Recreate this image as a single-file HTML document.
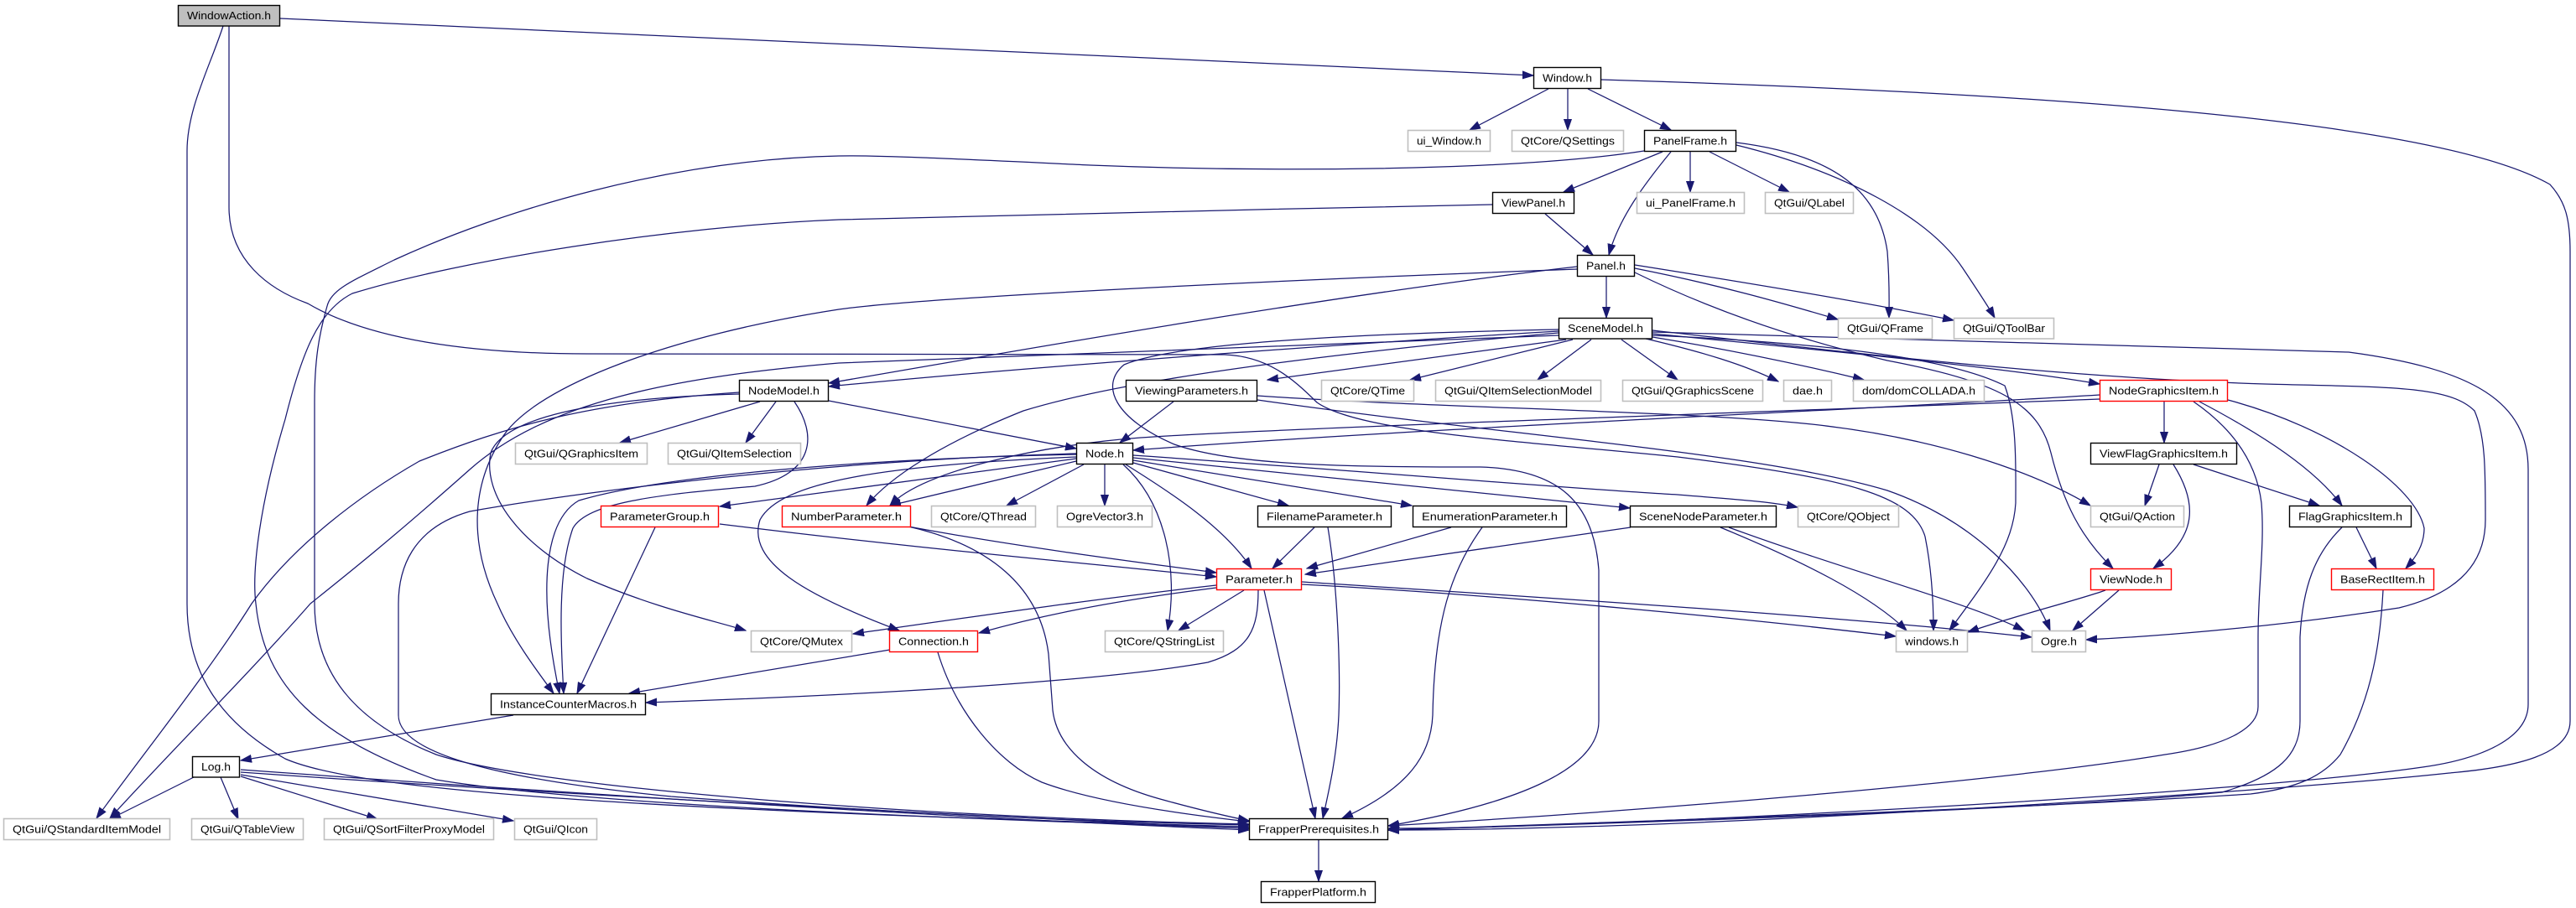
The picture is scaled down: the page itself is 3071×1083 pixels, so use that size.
<!DOCTYPE html>
<html>
<head>
<meta charset="utf-8">
<style>
html,body{margin:0;padding:0;background:#fff;}
svg{display:block;}
text{font-family:"Liberation Sans",sans-serif;font-size:13px;fill:#000;}
</style>
</head>
<body>
<svg width="3071" height="1083" viewBox="0 0 3071 1083" xmlns="http://www.w3.org/2000/svg">
<defs>
<marker id="a" markerWidth="14" markerHeight="10" refX="13" refY="5" orient="auto" markerUnits="userSpaceOnUse">
<path d="M0,0.5 L13,5 L0,9.5 z" fill="#191970" stroke="#191970" stroke-width="1"/>
</marker>
</defs>
<rect x="0" y="0" width="3071" height="1083" fill="#fff"/>
<g fill="none" stroke="#191970" stroke-width="1.25" marker-end="url(#a)">
<path d="M334,22 L1828,90"/>
<path d="M266,31 C250,80 223,130 223,180 L223,720 C223,800 260,860 340,905 C420,940 700,965 1489,986"/>
<path d="M273,31 L273,247 C273,310 320,345 367,362 C440,405 560,422 700,422 L1460,423 C1510,425 1540,450 1570,480 C1620,515 1800,525 2000,545 C2200,570 2280,590 2295,640 C2303,680 2305,720 2305,752"/>
<path d="M1499,472 C1700,486 2000,490 2150,505 C2300,520 2420,560 2492,603"/>
<path d="M1499,477 C1800,520 2100,540 2250,585 C2350,620 2420,690 2444,752"/>
<path d="M1846,106 L1752,155"/>
<path d="M1869,106 L1869,155"/>
<path d="M1893,106 L1992,155"/>
<path d="M1909,95 C2400,110 2900,140 3040,220 C3058,240 3064,260 3064,300 L3064,860 C3064,900 3000,915 2920,922 C2800,935 2400,965 2000,982 C1850,988 1750,990 1655,990"/>
<path d="M1982,181 L1864,229"/>
<path d="M1992,181 C1960,220 1930,260 1918,304"/>
<path d="M2015,181 L2015,229"/>
<path d="M2038,181 L2133,229"/>
<path d="M2070,170 C2190,185 2240,230 2250,300 C2253,340 2252,360 2252,379"/>
<path d="M2070,173 C2200,205 2300,260 2340,320 C2360,350 2370,365 2378,379"/>
<path d="M1960,180 C1800,205 1500,205 1300,197 C1150,190 1050,185 1000,186 C800,190 600,250 470,310 C420,335 395,345 390,365 C380,400 375,430 375,480 L375,720 C375,800 420,860 520,900 C640,940 1100,975 1489,983"/>
<path d="M1779,244 C1500,250 1100,258 1000,262 C800,270 550,310 420,350 C380,370 360,420 340,500 C310,600 300,680 305,720 C315,820 380,880 520,930 C700,960 1100,975 1489,988"/>
<path d="M1842,255 L1899,304"/>
<path d="M1915,330 L1915,379"/>
<path d="M1949,320 C2050,340 2120,360 2191,381"/>
<path d="M1949,316 C2100,340 2220,360 2329,382"/>
<path d="M1949,325 C2000,350 2100,395 2250,430 C2380,455 2430,480 2445,540 C2460,600 2480,640 2519,678"/>
<path d="M1880,318 C1600,350 1200,420 988,457"/>
<path d="M1880,321 C1500,335 1100,355 1000,369 C800,400 640,460 600,520 C560,580 560,650 593,720 C610,760 640,800 660,827"/>
<path d="M1858,395 C1600,410 1200,440 988,461"/>
<path d="M1867,405 L1511,453"/>
<path d="M1875,405 L1681,453"/>
<path d="M1897,405 L1833,453"/>
<path d="M1933,405 L2000,453"/>
<path d="M1962,404 C2030,420 2080,435 2120,455"/>
<path d="M1970,402 C2080,420 2160,438 2222,453"/>
<path d="M1970,398 C2200,420 2400,440 2503,458"/>
<path d="M1858,400 C1500,412 1150,425 1000,433 C800,450 650,480 560,560 C470,640 420,680 370,720 C300,800 200,900 131,976"/>
<path d="M1858,397 C1600,420 1350,450 1220,490 C1120,530 1060,570 1033,603"/>
<path d="M1858,393 C1600,398 1400,410 1340,435 C1310,460 1330,500 1400,530 C1470,555 1600,557 1765,557 C1860,560 1900,600 1906,680 L1906,860 C1906,920 1800,960 1655,985"/>
<path d="M1970,396 C2300,408 2600,412 2800,420 C2950,440 3014,480 3014,560 L3014,840 C3014,880 2960,905 2888,915 C2750,935 2400,960 2000,978 C1850,984 1750,988 1655,988"/>
<path d="M1970,394 C2200,420 2450,450 2700,458 C2850,462 2920,460 2950,490 C2963,520 2963,560 2963,620 C2963,680 2920,710 2860,725 C2700,750 2550,760 2487,763"/>
<path d="M1970,400 C2200,410 2330,430 2390,460 C2405,500 2403,560 2403,600 C2400,650 2370,690 2324,752"/>
<path d="M1399,479 L1335,528"/>
<path d="M988,478 L1283,535"/>
<path d="M2503,471 C2200,490 1700,510 1351,537"/>
<path d="M2503,476 C2000,495 1500,512 1360,522 C1250,530 1100,560 1061,603"/>
<path d="M2580,479 L2580,528"/>
<path d="M2622,479 C2700,520 2760,560 2792,603"/>
<path d="M2656,477 C2780,510 2880,580 2890,630 C2890,650 2880,665 2868,678"/>
<path d="M2615,479 C2660,510 2690,550 2696,600 C2700,650 2692,700 2692,760 L2692,843 C2692,870 2650,890 2581,900 C2400,930 2000,965 1655,985"/>
<path d="M2574,554 L2557,603"/>
<path d="M2591,554 C2620,600 2620,640 2567,678"/>
<path d="M2615,554 L2765,603"/>
<path d="M2809,629 L2833,678"/>
<path d="M2792,629 C2760,660 2745,700 2742,760 L2742,860 C2742,900 2717,925 2649,945 C2450,965 2000,980 1655,990"/>
<path d="M2841,704 C2838,760 2830,830 2790,900 C2770,925 2740,940 2683,947 C2400,965 2000,978 1655,990"/>
<path d="M2510,704 C2480,715 2400,735 2346,754"/>
<path d="M2526,704 L2471,752"/>
<path d="M1292,554 L1200,603"/>
<path d="M1317,554 L1317,603"/>
<path d="M1342,554 C1400,590 1460,630 1492,678"/>
<path d="M1339,554 C1390,600 1405,680 1392,752"/>
<path d="M1351,552 L1536,603"/>
<path d="M1351,549 L1683,603"/>
<path d="M1351,546 C1600,570 1800,590 1943,606"/>
<path d="M1351,543 C1600,560 1900,585 2000,590 C2060,595 2110,598 2143,605"/>
<path d="M1283,547 L858,604"/>
<path d="M1283,550 L1061,603"/>
<path d="M1283,542 C1000,548 780,570 690,597 C650,620 640,700 667,827"/>
<path d="M1283,545 C1050,555 930,575 906,620 C890,670 960,710 1072,752"/>
<path d="M1283,541 C1000,548 700,585 560,610 C490,630 475,680 475,720 L475,853 C475,900 600,930 800,950 C1100,972 1300,980 1489,984"/>
<path d="M906,479 L739,528"/>
<path d="M925,479 L889,528"/>
<path d="M947,479 C975,520 970,565 900,580 C780,590 700,600 683,630 C665,680 668,760 672,827"/>
<path d="M881,470 C700,475 600,500 585,540 C575,590 620,650 700,690 C780,725 850,740 889,752"/>
<path d="M881,468 C700,480 600,510 500,550 C430,590 350,650 300,720 C250,800 170,900 115,976"/>
<path d="M858,625 C1100,655 1300,672 1450,688"/>
<path d="M781,629 L688,827"/>
<path d="M1083,628 C1200,650 1350,670 1450,683"/>
<path d="M1083,628 C1180,650 1240,700 1250,780 L1255,847 C1260,890 1300,930 1383,953 C1430,966 1460,973 1489,979"/>
<path d="M1450,698 C1300,715 1150,737 1017,756"/>
<path d="M1450,701 C1300,720 1220,740 1167,755"/>
<path d="M1483,704 L1405,752"/>
<path d="M1500,704 C1500,750 1490,775 1440,790 C1300,815 1000,830 770,838"/>
<path d="M1507,704 L1568,976"/>
<path d="M1552,697 C1800,710 2100,740 2260,759"/>
<path d="M1552,694 C1800,710 2200,735 2422,760"/>
<path d="M1567,629 L1517,678"/>
<path d="M1583,629 C1595,700 1598,800 1596,853 C1594,900 1585,940 1577,976"/>
<path d="M1730,629 L1558,678"/>
<path d="M1767,629 C1730,680 1710,740 1708,853 C1706,900 1680,940 1600,976"/>
<path d="M1944,629 L1556,685"/>
<path d="M2051,629 C2150,670 2230,710 2273,752"/>
<path d="M2061,629 C2200,680 2350,720 2413,752"/>
<path d="M1061,775 L750,827"/>
<path d="M1118,778 C1140,850 1190,910 1242,933 C1300,955 1400,970 1489,980"/>
<path d="M612,853 L287,907"/>
<path d="M231,927 L131,977"/>
<path d="M263,927 L284,977"/>
<path d="M287,926 L450,977"/>
<path d="M287,924 L612,979"/>
<path d="M287,921 C700,950 1200,975 1489,988"/>
<path d="M287,918 C800,955 1200,978 1489,990"/>
<path d="M1572,1002 L1572,1051"/>
</g>

<!-- main node -->
<g stroke-width="1.4">
<rect x="212.5" y="6.5" width="121" height="24.5" fill="#bfbfbf" stroke="#000"/>
</g>
<!-- documented nodes (black border) -->
<g fill="#fff" stroke="#000" stroke-width="1.4">
<rect x="1828.5" y="80.5" width="80" height="25"/>
<rect x="1960.5" y="155.5" width="109" height="25"/>
<rect x="1779.5" y="229.5" width="97" height="25"/>
<rect x="1880.5" y="304.5" width="68" height="25"/>
<rect x="1858.5" y="379.5" width="111" height="24.5"/>
<rect x="881.5" y="453.5" width="106" height="25"/>
<rect x="1342.5" y="453.5" width="156" height="25"/>
<rect x="1283.5" y="528.5" width="67" height="25"/>
<rect x="2492.5" y="528.5" width="174" height="25"/>
<rect x="1499.5" y="603.5" width="159" height="25"/>
<rect x="1684.5" y="603.5" width="183" height="25"/>
<rect x="1943.5" y="603.5" width="174" height="25"/>
<rect x="2729.5" y="603.5" width="145" height="25"/>
<rect x="585.5" y="827.5" width="184" height="25"/>
<rect x="229.5" y="902.5" width="56" height="24.5"/>
<rect x="1489.5" y="976.5" width="165" height="25"/>
<rect x="1503.5" y="1051.5" width="136" height="25"/>
</g>
<!-- external nodes (gray border) -->
<g fill="#fff" stroke="#bfbfbf" stroke-width="1.6">
<rect x="1678.5" y="155.5" width="98" height="25"/>
<rect x="1802.5" y="155.5" width="133" height="25"/>
<rect x="1951.5" y="229.5" width="128" height="25"/>
<rect x="2104.5" y="229.5" width="105" height="25"/>
<rect x="2191.5" y="379.5" width="112" height="24.5"/>
<rect x="2329.5" y="379.5" width="119" height="24.5"/>
<rect x="1575.5" y="453.5" width="110" height="25"/>
<rect x="1711.5" y="453.5" width="197" height="25"/>
<rect x="1934.5" y="453.5" width="167" height="25"/>
<rect x="2126.5" y="453.5" width="57" height="25"/>
<rect x="2209.5" y="453.5" width="156" height="25"/>
<rect x="614.5" y="528.5" width="157" height="25"/>
<rect x="796.5" y="528.5" width="158" height="25"/>
<rect x="1110.5" y="603.5" width="124" height="25"/>
<rect x="1260.5" y="603.5" width="113" height="25"/>
<rect x="2143.5" y="603.5" width="120" height="25"/>
<rect x="2492.5" y="603.5" width="111" height="25"/>
<rect x="895.5" y="752.5" width="120" height="25"/>
<rect x="1317.5" y="752.5" width="141" height="25"/>
<rect x="2260.5" y="752.5" width="85" height="25"/>
<rect x="2422.5" y="752.5" width="64" height="25"/>
<rect x="4.5" y="976.5" width="198" height="25"/>
<rect x="228.5" y="976.5" width="133" height="25"/>
<rect x="386.5" y="976.5" width="202" height="25"/>
<rect x="613.5" y="976.5" width="98" height="25"/>
</g>
<!-- truncated nodes (red border) -->
<g fill="#fff" stroke="#ff0000" stroke-width="1.4">
<rect x="2503.5" y="453.5" width="152" height="25"/>
<rect x="716.5" y="603.5" width="140" height="25"/>
<rect x="932.5" y="603.5" width="153" height="25"/>
<rect x="1450.5" y="678.5" width="101" height="25"/>
<rect x="2492.5" y="678.5" width="96" height="25"/>
<rect x="2779.5" y="678.5" width="122" height="25"/>
<rect x="1060.5" y="752.5" width="105" height="25"/>
</g>

<g text-anchor="middle">
<text x="273" y="23" textLength="100" lengthAdjust="spacingAndGlyphs">WindowAction.h</text>
<text x="1868.5" y="97.5" textLength="59" lengthAdjust="spacingAndGlyphs">Window.h</text>
<text x="1727.5" y="172.5" textLength="77" lengthAdjust="spacingAndGlyphs">ui_Window.h</text>
<text x="1869" y="172.5" textLength="112" lengthAdjust="spacingAndGlyphs">QtCore/QSettings</text>
<text x="2015" y="172.5" textLength="88" lengthAdjust="spacingAndGlyphs">PanelFrame.h</text>
<text x="1828" y="246.5" textLength="76" lengthAdjust="spacingAndGlyphs">ViewPanel.h</text>
<text x="2015.5" y="246.5" textLength="107" lengthAdjust="spacingAndGlyphs">ui_PanelFrame.h</text>
<text x="2157" y="246.5" textLength="84" lengthAdjust="spacingAndGlyphs">QtGui/QLabel</text>
<text x="1914.5" y="321.5" textLength="47" lengthAdjust="spacingAndGlyphs">Panel.h</text>
<text x="1914" y="396" textLength="90" lengthAdjust="spacingAndGlyphs">SceneModel.h</text>
<text x="2247.5" y="396" textLength="91" lengthAdjust="spacingAndGlyphs">QtGui/QFrame</text>
<text x="2389" y="396" textLength="98" lengthAdjust="spacingAndGlyphs">QtGui/QToolBar</text>
<text x="934.5" y="470.5" textLength="85" lengthAdjust="spacingAndGlyphs">NodeModel.h</text>
<text x="1420.5" y="470.5" textLength="135" lengthAdjust="spacingAndGlyphs">ViewingParameters.h</text>
<text x="1630.5" y="470.5" textLength="89" lengthAdjust="spacingAndGlyphs">QtCore/QTime</text>
<text x="1810" y="470.5" textLength="176" lengthAdjust="spacingAndGlyphs">QtGui/QItemSelectionModel</text>
<text x="2018" y="470.5" textLength="146" lengthAdjust="spacingAndGlyphs">QtGui/QGraphicsScene</text>
<text x="2155" y="470.5" textLength="36" lengthAdjust="spacingAndGlyphs">dae.h</text>
<text x="2287.5" y="470.5" textLength="135" lengthAdjust="spacingAndGlyphs">dom/domCOLLADA.h</text>
<text x="2579.5" y="470.5" textLength="131" lengthAdjust="spacingAndGlyphs">NodeGraphicsItem.h</text>
<text x="693" y="545.5" textLength="136" lengthAdjust="spacingAndGlyphs">QtGui/QGraphicsItem</text>
<text x="875.5" y="545.5" textLength="137" lengthAdjust="spacingAndGlyphs">QtGui/QItemSelection</text>
<text x="1317" y="545.5" textLength="46" lengthAdjust="spacingAndGlyphs">Node.h</text>
<text x="2579.5" y="545.5" textLength="153" lengthAdjust="spacingAndGlyphs">ViewFlagGraphicsItem.h</text>
<text x="786.5" y="620.5" textLength="119" lengthAdjust="spacingAndGlyphs">ParameterGroup.h</text>
<text x="1009" y="620.5" textLength="132" lengthAdjust="spacingAndGlyphs">NumberParameter.h</text>
<text x="1172.5" y="620.5" textLength="103" lengthAdjust="spacingAndGlyphs">QtCore/QThread</text>
<text x="1317" y="620.5" textLength="92" lengthAdjust="spacingAndGlyphs">OgreVector3.h</text>
<text x="1579" y="620.5" textLength="138" lengthAdjust="spacingAndGlyphs">FilenameParameter.h</text>
<text x="1776" y="620.5" textLength="162" lengthAdjust="spacingAndGlyphs">EnumerationParameter.h</text>
<text x="2030.5" y="620.5" textLength="153" lengthAdjust="spacingAndGlyphs">SceneNodeParameter.h</text>
<text x="2203.5" y="620.5" textLength="99" lengthAdjust="spacingAndGlyphs">QtCore/QObject</text>
<text x="2548" y="620.5" textLength="90" lengthAdjust="spacingAndGlyphs">QtGui/QAction</text>
<text x="2802" y="620.5" textLength="124" lengthAdjust="spacingAndGlyphs">FlagGraphicsItem.h</text>
<text x="1501" y="695.5" textLength="80" lengthAdjust="spacingAndGlyphs">Parameter.h</text>
<text x="2540.5" y="695.5" textLength="75" lengthAdjust="spacingAndGlyphs">ViewNode.h</text>
<text x="2840.5" y="695.5" textLength="101" lengthAdjust="spacingAndGlyphs">BaseRectItem.h</text>
<text x="955.5" y="769.5" textLength="99" lengthAdjust="spacingAndGlyphs">QtCore/QMutex</text>
<text x="1113" y="769.5" textLength="84" lengthAdjust="spacingAndGlyphs">Connection.h</text>
<text x="1388" y="769.5" textLength="120" lengthAdjust="spacingAndGlyphs">QtCore/QStringList</text>
<text x="2303" y="769.5" textLength="64" lengthAdjust="spacingAndGlyphs">windows.h</text>
<text x="2454.5" y="769.5" textLength="43" lengthAdjust="spacingAndGlyphs">Ogre.h</text>
<text x="677.5" y="844.5" textLength="163" lengthAdjust="spacingAndGlyphs">InstanceCounterMacros.h</text>
<text x="257.5" y="919" textLength="35" lengthAdjust="spacingAndGlyphs">Log.h</text>
<text x="103.5" y="993.5" textLength="177" lengthAdjust="spacingAndGlyphs">QtGui/QStandardItemModel</text>
<text x="295" y="993.5" textLength="112" lengthAdjust="spacingAndGlyphs">QtGui/QTableView</text>
<text x="487.5" y="993.5" textLength="181" lengthAdjust="spacingAndGlyphs">QtGui/QSortFilterProxyModel</text>
<text x="662.5" y="993.5" textLength="77" lengthAdjust="spacingAndGlyphs">QtGui/QIcon</text>
<text x="1572" y="993.5" textLength="144" lengthAdjust="spacingAndGlyphs">FrapperPrerequisites.h</text>
<text x="1571.5" y="1068.5" textLength="115" lengthAdjust="spacingAndGlyphs">FrapperPlatform.h</text>
</g>
</svg>
</body>
</html>
